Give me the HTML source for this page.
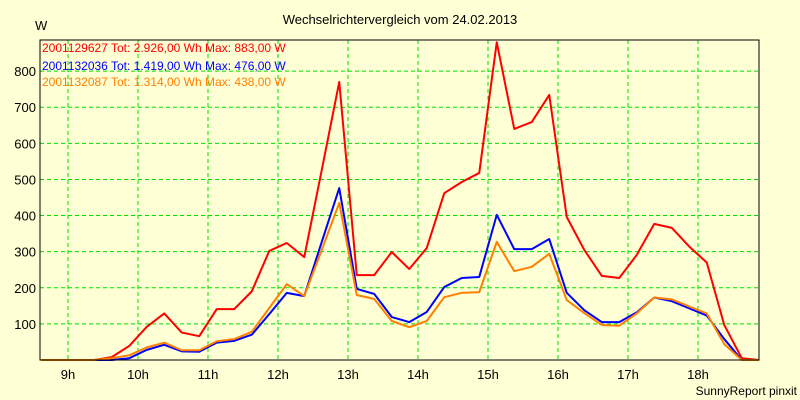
<!DOCTYPE html>
<html><head><meta charset="utf-8"><style>
body{margin:0;background:#FFFFD6;}
svg{display:block;font-family:"Liberation Sans",sans-serif;}
</style></head><body>
<svg id="chart" width="800" height="400" xmlns="http://www.w3.org/2000/svg">
<rect x="0" y="0" width="800" height="400" fill="#FFFFD6"/>
<text x="400" y="24" font-size="13" text-anchor="middle" fill="#000">Wechselrichtervergleich vom 24.02.2013</text>
<text x="35" y="30" font-size="13" fill="#000">W</text>
<g id="grid"></g>
<g id="series"></g>
<rect x="40" y="40" width="719" height="320" fill="none" stroke="#000" stroke-width="1"/>
<g id="ticks"></g>
<text x="42" y="52" font-size="12" fill="#FF0000">2001129627 Tot: 2.926,00 Wh Max: 883,00 W</text>
<text x="42" y="70" font-size="12" fill="#0000FF">2001132036 Tot: 1.419,00 Wh Max: 476,00 W</text>
<text x="42" y="86" font-size="12" fill="#FF8000">2001132087 Tot: 1.314,00 Wh Max: 438,00 W</text>
<text x="797" y="395" font-size="12" text-anchor="end" fill="#000">SunnyReport pinxit</text>
</svg>
<script>
const startHour = 8.625;
const stepHours = 0.25;
const red = [0,0,0,0,8,39,92,129,76,66,141,141,190,302,324,285,526,770,235,235,299,252,310,462,493,518,880,640,659,734,396,305,233,227,291,377,366,314,270,97,5,0];
const blue = [0,0,0,0,0,5,28,42,24,23,48,53,70,127,186,177,327,476,197,183,119,105,133,202,227,230,402,307,307,335,186,138,105,105,132,173,163,143,123,58,0,0];
const orange = [0,0,0,0,5,13,35,48,27,27,52,58,78,144,210,177,305,435,180,169,108,91,108,174,186,188,327,246,258,294,166,130,97,95,129,173,168,148,129,44,0,0];
const xTicks = [9,10,11,12,13,14,15,16,17,18];
const xTickLabels = ["9h","10h","11h","12h","13h","14h","15h","16h","17h","18h"];
const yTicks = [100,200,300,400,500,600,700,800];

const NS = "http://www.w3.org/2000/svg";
function xs(h){ return 68 + (h - 9) * 70; }
function ys(v){ return 360 - v * 0.3611; }
const grid = document.getElementById('grid');
const ticks = document.getElementById('ticks');
const series = document.getElementById('series');

xTicks.forEach((h,i)=>{
  const l = document.createElementNS(NS,'line');
  
  
  l.setAttribute('x1',xs(h)); l.setAttribute('x2',xs(h));
  l.setAttribute('y1',40); l.setAttribute('y2',360);
  l.setAttribute('stroke','#00E000'); l.setAttribute('stroke-dasharray','4,3');
  grid.appendChild(l);
  const t = document.createElementNS(NS,'text');
  
  
  t.setAttribute('x',xs(h)); t.setAttribute('y',379);
  t.setAttribute('font-size','13'); t.setAttribute('text-anchor','middle');
  t.textContent = xTickLabels[i];
  ticks.appendChild(t);
});
yTicks.forEach(v=>{
  const l = document.createElementNS(NS,'line');
  
  
  l.setAttribute('x1',40); l.setAttribute('x2',759);
  l.setAttribute('y1',ys(v)); l.setAttribute('y2',ys(v));
  l.setAttribute('stroke','#00E000'); l.setAttribute('stroke-dasharray','4,3');
  grid.appendChild(l);
  const t = document.createElementNS(NS,'text');
  
  
  t.setAttribute('x',36); t.setAttribute('y',ys(v)+5);
  t.setAttribute('font-size','13'); t.setAttribute('text-anchor','end');
  t.textContent = v;
  ticks.appendChild(t);
});
function drawLine(arr,color,name){
  const pts = arr.map((v,i)=>{
    const x = Math.min(759, xs(startHour + i*stepHours));
    return x.toFixed(2)+','+ys(v).toFixed(2);
  }).join(' ');
  const p = document.createElementNS(NS,'polyline');
  
  
  p.setAttribute('points',pts);
  p.setAttribute('fill','none'); p.setAttribute('stroke',color);
  p.setAttribute('stroke-width','2'); p.setAttribute('stroke-linejoin','round');
  series.appendChild(p);
}
drawLine(red,'#FF0000','line-2001129627');
drawLine(blue,'#0000FF','line-2001132036');
drawLine(orange,'#FF8000','line-2001132087');
</script>
</body></html>
